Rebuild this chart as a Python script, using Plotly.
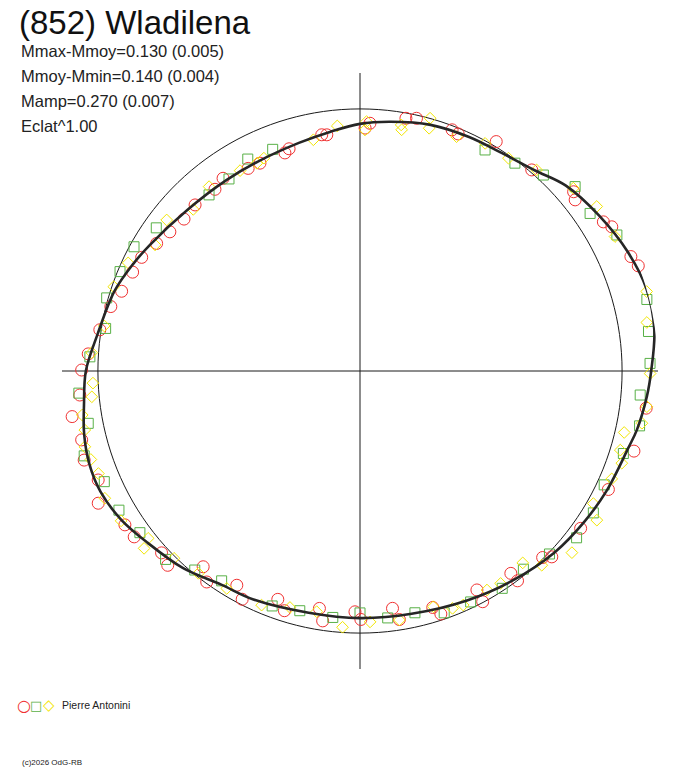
import plotly.graph_objects as go

# (852) Wladilena - polar lightcurve, phase in degrees, flux relative to mean
title = "(852) Wladilena"
info_lines = ["Mmax-Mmoy=0.130 (0.005)", "Mmoy-Mmin=0.140 (0.004)",
              "Mamp=0.270 (0.007)", "Eclat^1.00"]
observer = "Pierre Antonini"
credit = "(c)2026 OdG-RB"

fit_phase = [0, 8, 16, 24, 33, 42, 49, 57, 65, 74, 83, 90, 97, 105, 116, 125, 137, 149,
             155, 162, 172, 180, 187, 193, 199, 205, 212, 219, 228, 237, 245, 258, 270,
             282, 295, 306, 317, 326, 334, 344, 348, 355, 360]
fit_flux = [1.111, 1.134, 1.137, 1.118, 1.088, 1.057, 1.015, 0.992, 0.985, 0.977, 0.958,
            0.943, 0.920, 0.901, 0.889, 0.889, 0.901, 0.935, 0.958, 0.985, 1.011, 1.046,
            1.061, 1.080, 1.092, 1.092, 1.073, 1.042, 1.011, 0.972, 0.962, 0.943, 0.943,
            0.947, 0.966, 0.989, 1.015, 1.031, 1.046, 1.065, 1.080, 1.099, 1.111]

red_phase = [107.7, 109.0, 115.7, 118.9, 125.4, 128.6, 134.8, 139.2, 143.8, 147.9, 152.5,
             156.5, 161.5, 165.5, 171.0, 176.4, 179.8, 99.2, 98.0, 88.8, 87.7, 79.7, 77.4,
             69.1, 67.5, 59.3, 49.5, 40.0, 38.5, 31.5, 29.8, 22.9, 20.7, 11.5, 11.1, 1.1,
             352.6, 343.7, 184.9, 189.0, 193.9, 197.9, 202.6, 206.8, 213.2, 216.3, 222.5,
             225.3, 231.3, 234.0, 240.1, 242.7, 250.2, 252.5, 260.3, 261.5, 268.8, 270.2,
             277.8, 279.0, 287.1, 288.4, 298.1, 298.0, 306.7, 306.9, 314.4, 315.9, 324.5,
             334.5]
red_flux = [0.890, 0.880, 0.880, 0.883, 0.902, 0.887, 0.893, 0.887, 0.899, 0.916, 0.939,
            0.946, 0.959, 0.982, 1.005, 1.039, 1.062, 0.913, 0.910, 0.927, 0.946, 0.980,
            0.988, 0.985, 0.979, 1.018, 1.009, 1.064, 1.049, 1.089, 1.107, 1.122, 1.135,
            1.140, 1.147, 1.143, 1.101, 1.089, 1.073, 1.112, 1.094, 1.106, 1.082, 1.119,
            1.072, 1.069, 1.027, 1.043, 0.957, 0.995, 0.943, 0.980, 0.926, 0.959, 0.919,
            0.964, 0.919, 0.948, 0.914, 0.960, 0.944, 0.977, 0.947, 0.997, 0.963, 1.001,
            0.996, 1.019, 1.034, 1.050]

green_phase = [111.5, 117.9, 124.3, 130.6, 144.9, 151.2, 157.5, 163.9, 170.5, 177.0, 60.5,
               53.3, 46.9, 40.6, 34.4, 27.9, 21.4, 14.0, 7.8, 1.5, 355.1, 348.9, 342.6,
               184.5, 190.9, 197.1, 203.4, 210.0, 216.3, 224.1, 230.3, 236.6, 249.5, 255.9,
               263.7, 270.0, 276.4, 282.8, 289.2, 295.6, 303.2, 309.5, 316.0, 322.4, 328.7,
               335.0]
green_flux = [0.909, 0.915, 0.887, 0.885, 0.950, 0.984, 0.991, 1.006, 0.984, 1.032, 0.969,
              0.989, 1.024, 1.081, 1.064, 1.109, 1.141, 1.128, 1.111, 1.107, 1.073, 1.087,
              1.053, 1.076, 1.056, 1.101, 1.063, 1.062, 1.042, 1.033, 0.987, 0.959, 0.957,
              0.943, 0.946, 0.923, 0.948, 0.946, 0.977, 0.977, 0.991, 0.980, 1.005, 1.043,
              1.042, 1.028]

yellow_phase = [114.3, 116.4, 120.9, 129.3, 135.9, 142.0, 148.4, 155.0, 161.1, 170.0, 176.1,
                182.6, 185.5, 101.4, 95.3, 88.5, 88.8, 80.5, 80.2, 74.5, 74.1, 67.6, 61.2,
                55.1, 48.7, 40.6, 34.8, 27.8, 21.6, 15.5, 14.6, 9.6, 8.2, 2.1, 359.5, 355.7,
                352.9, 349.5, 346.9, 343.1, 340.6, 336.8, 189.0, 192.1, 195.4, 198.2, 201.4,
                206.5, 212.1, 218.3, 219.4, 225.2, 231.4, 238.5, 247.2, 253.5, 259.8, 266.1,
                272.3, 279.0, 287.3, 291.3, 293.8, 300.1, 303.5, 310.3, 313.1, 319.4, 330.4,
                327.8]
yellow_flux = [0.891, 0.885, 0.891, 0.909, 0.886, 0.936, 0.918, 0.976, 0.993, 0.991, 1.026,
               1.020, 1.028, 0.900, 0.939, 0.952, 0.920, 0.952, 0.934, 1.001, 0.963, 0.967,
               0.991, 0.990, 1.021, 1.072, 1.100, 1.100, 1.150, 1.135, 1.151, 1.110, 1.138,
               1.165, 1.107, 1.142, 1.103, 1.094, 1.035, 1.038, 1.059, 1.045, 1.073, 1.074,
               1.089, 1.081, 1.072, 1.088, 1.076, 1.030, 1.066, 1.007, 0.988, 0.973, 0.969,
               0.941, 0.933, 0.980, 0.958, 0.962, 0.942, 0.972, 0.976, 0.966, 0.972, 0.960,
               1.015, 1.065, 1.024, 1.068]

circle_phase = list(range(0, 361, 2))
circle_flux = [1.0] * len(circle_phase)

RED, GREEN, YELLOW = "#f03232", "#58b046", "#f2e600"

fig = go.Figure()

fig.add_trace(go.Scatterpolar(r=circle_flux, theta=circle_phase, mode="lines",
                              line=dict(color="#1a1a1a", width=1), hoverinfo="skip"))
for flux, phase, sym, size, col in [(red_flux, red_phase, "circle-open", 12, RED),
                                    (green_flux, green_phase, "square-open", 10, GREEN),
                                    (yellow_flux, yellow_phase, "diamond-open", 9, YELLOW)]:
    fig.add_trace(go.Scatterpolar(r=flux, theta=phase, mode="markers",
                                  marker=dict(symbol=sym, size=size, color=col,
                                              line=dict(color=col, width=1))))
fig.add_trace(go.Scatterpolar(r=fit_flux, theta=fit_phase, mode="lines",
                              line=dict(color="#262626", width=2.6, shape="spline")))

fig.update_layout(
    width=688, height=768,
    margin=dict(l=0, r=0, t=0, b=0),
    paper_bgcolor="white",
    showlegend=False,
    polar=dict(
        domain=dict(x=[62 / 688, 658 / 688], y=[99 / 768, 695 / 768]),
        bgcolor="white",
        radialaxis=dict(range=[0, 1.137], showgrid=False, showline=False,
                        showticklabels=False, ticks=""),
        angularaxis=dict(rotation=0, direction="counterclockwise", tickmode="linear",
                         tick0=0, dtick=90, showgrid=True, gridcolor="#1a1a1a",
                         gridwidth=1, showline=False, showticklabels=False, ticks=""),
    ),
)

font = "Liberation Sans, Arial, sans-serif"


def note(x, y, text, size, family=font, color="#222", anchor="left"):
    fig.add_annotation(x=x / 688, y=1 - y / 768, xref="paper", yref="paper", text=text,
                       showarrow=False, xanchor=anchor, yanchor="middle",
                       font=dict(family=family, size=size, color=color))


note(17, 22, title, 33, color="#111")
for i, line in enumerate(info_lines):
    note(19, 51 + 25 * i, line, 16.5)

note(23.5, 705, "○", 16, "DejaVu Sans", RED, "center")
note(36, 705, "□", 13, "DejaVu Sans", GREEN, "center")
note(48.5, 705, "◇", 15, "DejaVu Sans", YELLOW, "center")
note(60, 705, observer, 10.5)
note(20, 762, credit, 8)

fig.write_html("out.html", config={"displayModeBar": False},
               post_script="document.body.style.margin='0px';")
